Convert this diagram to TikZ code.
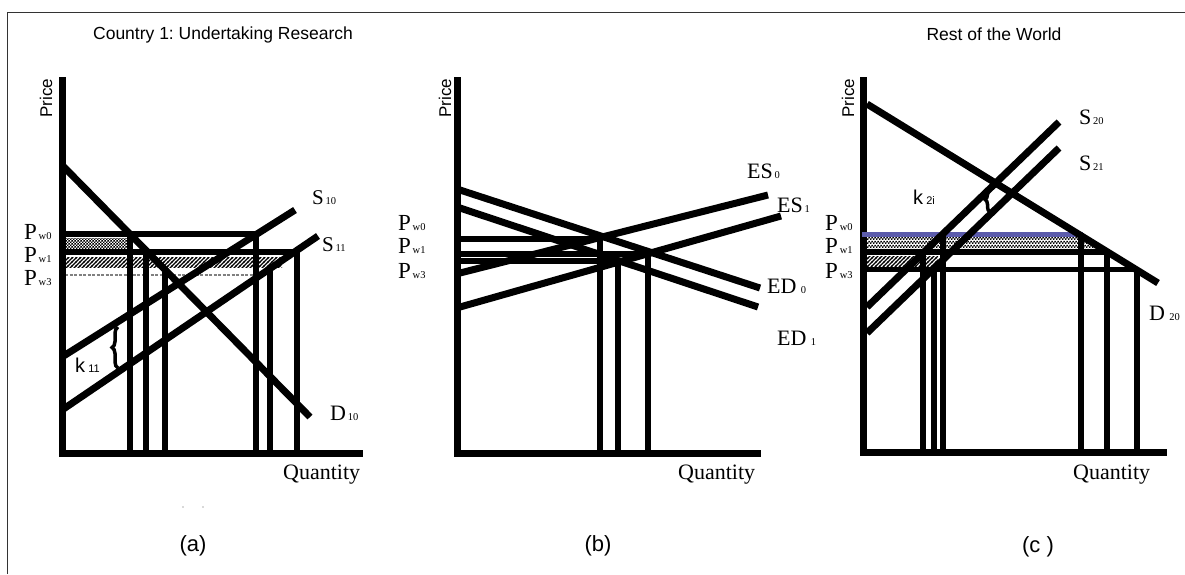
\documentclass[tikz,border=0pt]{standalone}
\usepackage{fontspec}
\setmainfont{Liberation Serif}
\setsansfont{Liberation Sans}
\usetikzlibrary{patterns,decorations.pathreplacing}
\definecolor{pwblue}{RGB}{92,92,172}
\newcommand{\fsz}[1]{\fontsize{#1}{#1}\selectfont}
\newcommand{\subl}[1]{{\fsz{10.5}\,#1}}
\frenchspacing
% fine checker and hatch fills
\pgfdeclarepatternformonly{finecheck}{\pgfpointorigin}{\pgfqpoint{3.4pt}{3.4pt}}{\pgfqpoint{3.4pt}{3.4pt}}{%
  \pgfpathrectangle{\pgfpointorigin}{\pgfqpoint{1.7pt}{1.7pt}}%
  \pgfpathrectangle{\pgfqpoint{1.7pt}{1.7pt}}{\pgfqpoint{1.7pt}{1.7pt}}%
  \pgfusepath{fill}}
\pgfdeclarepatternformonly{hatchfill}{\pgfqpoint{-1pt}{-1pt}}{\pgfqpoint{5pt}{5pt}}{\pgfqpoint{4pt}{4pt}}{%
  \pgfsetlinewidth{1.1pt}%
  \pgfpathmoveto{\pgfqpoint{-0.5pt}{-0.5pt}}\pgfpathlineto{\pgfqpoint{4.5pt}{4.5pt}}%
  \pgfusepath{stroke}}

\begin{document}
\begin{tikzpicture}[x=1pt, y=-1pt,
    curve/.style={line width=7pt},
    axisline/.style={line width=7pt, line join=miter},
    priceline/.style={line width=6pt},
    qtyline/.style={line width=6pt},
    pricelab/.style={font=\sffamily\fsz{17}, rotate=90, inner sep=0pt},
    pwlab/.style={font=\fsz{23}, anchor=base west, inner sep=0pt},
    curvelab/.style={font=\fsz{21}, anchor=base west, inner sep=0pt},
    qlab/.style={font=\fsz{22}, anchor=base west, inner sep=0pt},
    klab/.style={font=\sffamily\fsz{20}, anchor=base west, inner sep=0pt},
    panellab/.style={font=\sffamily\fsz{22}, inner sep=0pt},
    titlelab/.style={font=\sffamily\fsz{17.5}, inner sep=0pt},
    kbrace/.style={line width=3.5pt, decorate, decoration={brace, amplitude=6pt}}]
    \useasboundingbox (0,0) rectangle (1185,574);

    % Frame
    \draw[line width=1pt, black!80] (7,574) -- (7,12) -- (1185,12);

    % Titles
    \node[titlelab] (title1) at (223,35) {Country 1: Undertaking Research};
    \node[titlelab] (title2) at (994,34) {Rest of the World};

    % ---------------- Panel (a) ----------------
    \fill[pattern=finecheck] (65,238) rectangle (127,248);
    \fill[pattern=hatchfill] (65,257) rectangle (282,267);
    \draw[gray, line width=2.5pt, dash pattern=on 3pt off 1.5pt] (65,275) -- (255,275);

    \draw[axisline] (62,77) |- (363,453);
    \draw[priceline] (62,234) -- (259,234);
    \draw[priceline] (62,252) -- (300,252);
    \draw[qtyline] (130,234) -- (130,453);
    \draw[qtyline] (146,252) -- (146,453);
    \draw[qtyline] (165,272) -- (165,453);
    \draw[qtyline] (256,234) -- (256,453);
    \draw[qtyline] (270,270) -- (270,453);
    \draw[qtyline] (297,252) -- (297,453);
    \draw[curve] (62,165) -- (310,417);
    \draw[curve] (62,357) -- (295,210);
    \draw[curve] (62,410) -- (318,236);
    \draw[kbrace] (118,368) -- (118,327);

    \node[pricelab] (pricea) at (46,98) {Price};
    \node[pwlab] (pw0a) at (24,239) {P\subl{w0}};
    \node[pwlab] (pw1a) at (24,262) {P\subl{w1}};
    \node[pwlab] (pw3a) at (24,285) {P\subl{w3}};
    \node[curvelab] (s10) at (312,204) {S\subl{10}};
    \node[curvelab] (s11) at (322,251) {S\subl{11}};
    \node[qlab] (d10) at (330,420) {D\subl{10}};
    \node[klab] (k11) at (75,372) {k{\fsz{11}\ 11}};
    \node[qlab] (qa) at (283,479) {Quantity};
    \fill[gray!60] (183,507) circle (0.8) (203,507) circle (0.8);
    \node[panellab] (capa) at (193,546) {(a)};

    % ---------------- Panel (b) ----------------
    \draw[axisline] (457,77) |- (761,453);
    \draw[priceline] (457,239) -- (603,239);
    \draw[priceline] (457,254) -- (651,254);
    \draw[priceline] (457,261) -- (621,261);
    \draw[qtyline] (600,239) -- (600,453);
    \draw[qtyline] (618,261) -- (618,453);
    \draw[qtyline] (648,254) -- (648,453);
    \draw[curve] (460,190) -- (760,288);
    \draw[curve] (460,208) -- (758,307);
    \draw[curve] (460,273) -- (768,195);
    \draw[curve] (460,307) -- (781,216);

    \node[pricelab] (priceb) at (445,98) {Price};
    \node[pwlab] (pw0b) at (398,230) {P\subl{w0}};
    \node[pwlab] (pw1b) at (398,253) {P\subl{w1}};
    \node[pwlab] (pw3b) at (398,278) {P\subl{w3}};
    \node[qlab] (es0) at (747,178) {ES\subl{0}};
    \node[qlab] (es1) at (777,212) {ES\subl{1}};
    \node[qlab] (ed0) at (767,293) {ED\subl{\ 0}};
    \node[qlab] (ed1) at (777,345) {ED\subl{\ 1}};
    \node[qlab] (qb) at (678,479) {Quantity};
    \node[panellab] (capb) at (598,546) {(b)};

    % ---------------- Panel (c) ----------------
    \fill[pattern=finecheck] (867,237) -- (1083,237) -- (1103,249) -- (867,249) -- cycle;
    \fill[pattern=hatchfill] (867,256) rectangle (938,266);

    \draw[axisline] (863,77) |- (1167,452);
    \draw[pwblue, line width=5pt] (862,234) -- (1083,234);
    \draw[priceline] (863,252) -- (1110,252);
    \draw[line width=5pt] (863,269) -- (1137,269);
    \draw[qtyline] (923,252) -- (923,452);
    \draw[qtyline] (934,269) -- (934,452);
    \draw[qtyline] (943,234) -- (943,452);
    \draw[qtyline] (1081,236) -- (1081,452);
    \draw[qtyline] (1107,252) -- (1107,452);
    \draw[qtyline] (1137,269) -- (1137,452);
    \draw[curve] (867,104) -- (1158,283);
    \draw[curve] (867,307) -- (1059,122);
    \draw[curve] (867,333) -- (1059,148);
    \draw[kbrace, decoration={brace, amplitude=5pt}] (990,212) -- (990,187);

    \node[pricelab] (pricec) at (848,98) {Price};
    \node[pwlab] (pw0c) at (825,230) {P\subl{w0}};
    \node[pwlab] (pw1c) at (825,253) {P\subl{w1}};
    \node[pwlab] (pw3c) at (825,278) {P\subl{w3}};
    \node[qlab] (s20) at (1079,124) {S\subl{20}};
    \node[qlab] (s21) at (1079,170) {S\subl{21}};
    \node[qlab] (d20) at (1149,320) {D\subl{\ 20}};
    \node[klab] (k2i) at (913,204) {k{\fsz{11}\ 2i}};
    \node[qlab] (qc) at (1073,479) {Quantity};
    \node[panellab] (capc) at (1038,547) {(c )};
\end{tikzpicture}
\end{document}
